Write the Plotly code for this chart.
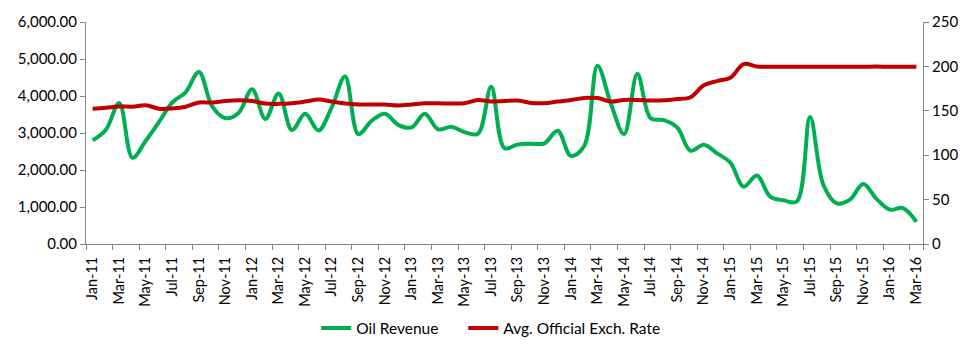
import plotly.graph_objects as go

months = ["Jan", "Feb", "Mar", "Apr", "May", "Jun", "Jul", "Aug", "Sep", "Oct", "Nov", "Dec"]
categories = [f"{months[m]}-{str(y)[2:]}" for y in range(2011, 2017) for m in range(12)][:63]

oil_revenue = [
    2800, 3090, 3810, 2330, 2790, 3300, 3830, 4100, 4650, 3720,
    3400, 3550, 4180, 3380, 4070, 3080, 3520, 3070, 3700, 4530,
    2970, 3330, 3520, 3220, 3150, 3520, 3100, 3170, 3020, 2980,
    4250, 2590, 2690, 2710, 2720, 3060, 2380, 2650, 4820, 3800,
    2970, 4600, 3400, 3350, 3150, 2520, 2680, 2450, 2200, 1550,
    1850, 1280, 1180, 1150, 3430, 1600, 1100, 1200, 1620, 1220,
    930, 970, 600,
]

exch_rate = [
    152.3, 153.4, 154.9, 154.6, 156.3, 152.3, 152.7, 154.6, 159.3, 159.3,
    161.1, 161.8, 161.1, 158.2, 157.8, 158.5, 160.4, 162.6, 160.4, 158.2,
    157.1, 157.1, 157.1, 156.0, 157.1, 158.5, 158.5, 158.2, 158.5, 162.2,
    160.4, 161.1, 161.5, 158.9, 158.5, 160.4, 162.2, 164.4, 164.4, 160.4,
    162.2, 162.2, 161.5, 161.8, 163.3, 165.2, 178.7, 183.5, 187.2, 202.6,
    199.8, 199.6, 199.5, 199.7, 199.6, 199.6, 199.6, 199.7, 199.7, 199.8,
    199.6, 199.7, 199.7,
]

series_names = ["Oil Revenue", "Avg. Official Exch. Rate"]

left_ticks = [0, 1000, 2000, 3000, 4000, 5000, 6000]
right_ticks = [0, 50, 100, 150, 200, 250]

xidx = list(range(len(categories)))
label_idx = xidx[::2]

FONT = "Lato"
AXIS_COLOR = "#868686"
PAD = "\u00a0" * 5

fig = go.Figure()
fig.add_trace(go.Scatter(
    x=xidx, y=oil_revenue, name=series_names[0] + PAD, mode="lines",
    line=dict(color="#00B050", width=4, shape="spline", smoothing=1.0),
    yaxis="y",
))
fig.add_trace(go.Scatter(
    x=xidx, y=exch_rate, name=series_names[1], mode="lines",
    line=dict(color="#C00000", width=4, shape="spline", smoothing=1.0),
    yaxis="y2",
))

fig.update_layout(
    width=975, height=358,
    margin=dict(l=86, r=52, t=18, b=113),
    paper_bgcolor="white", plot_bgcolor="white",
    font=dict(family=FONT, size=14, color="#000000"),
    showlegend=True,
    legend=dict(orientation="h", x=0.275, xanchor="left", y=-0.38, yanchor="middle",
                font=dict(family=FONT, size=15.5, color="#000000"),
                traceorder="normal", itemwidth=30),
    xaxis=dict(
        range=[-0.5, len(categories) - 0.5],
        tickmode="array", tickvals=label_idx,
        ticktext=[categories[i] for i in label_idx],
        tickangle=-90, ticks="", ticklabelstandoff=6,
        showline=True, linecolor=AXIS_COLOR, linewidth=1,
        showgrid=False, zeroline=False,
        minor=dict(tickmode="array",
                   tickvals=[i - 0.5 for i in xidx[::2]] + [len(categories) - 0.5],
                   ticks="outside", ticklen=5, tickcolor=AXIS_COLOR, showgrid=False),
        tickfont=dict(family=FONT, size=14.5),
    ),
    yaxis=dict(
        range=[0, 6000], tickmode="array", tickvals=left_ticks,
        tickformat=",.2f", ticks="outside", ticklen=5, tickcolor=AXIS_COLOR,
        showline=True, linecolor=AXIS_COLOR, linewidth=1,
        showgrid=False, zeroline=False,
        tickfont=dict(family=FONT, size=15),
    ),
    yaxis2=dict(
        range=[0, 250], tickmode="array", tickvals=right_ticks,
        overlaying="y", side="right",
        ticks="outside", ticklen=5, tickcolor=AXIS_COLOR,
        showline=True, linecolor=AXIS_COLOR, linewidth=1,
        showgrid=False, zeroline=False,
        tickfont=dict(family=FONT, size=15),
    ),
)

fig.write_html("out.html")
